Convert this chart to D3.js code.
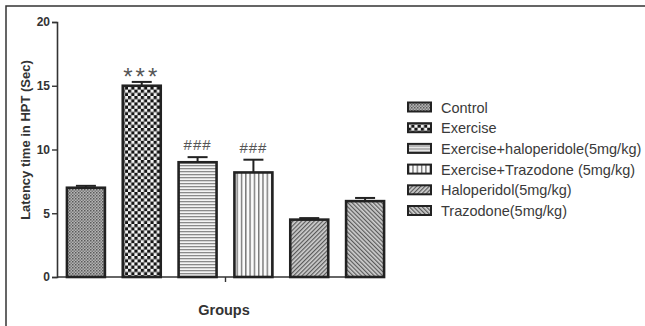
<!DOCTYPE html>
<html>
<head>
<meta charset="utf-8">
<script src="https://cdn.jsdelivr.net/npm/d3@7"></script>
<style>
  html, body { margin: 0; padding: 0; background: #fff; }
  svg { display: block; font-family: "Liberation Sans", Arial, Helvetica, sans-serif; }
</style>
</head>
<body>
<svg id="chart" width="645" height="326"></svg>
<script>
// Latency time in the hot-plate test (HPT) per treatment group
const groups = [
  "Control",
  "Exercise",
  "Exercise+haloperidole(5mg/kg)",
  "Exercise+Trazodone (5mg/kg)",
  "Haloperidol(5mg/kg)",
  "Trazodone(5mg/kg)"
];
const means = [7.0, 15.0, 9.0, 8.2, 4.5, 5.95];
const sems = [0.15, 0.3, 0.4, 1.0, 0.12, 0.25];
const marks = ["", "***", "###", "###", "", ""];
const yTicks = [0, 5, 10, 15, 20];
const patternIds = ["pControl", "pExercise", "pHoriz", "pVert", "pDiagUp", "pDiagDown"];

const svg = d3.select("#chart");
const defs = svg.append("defs");

// Fill textures for each group
function pattern(id, w, h) {
  return defs.append("pattern").attr("id", id)
    .attr("patternUnits", "userSpaceOnUse").attr("width", w).attr("height", h);
}
{
  const p = pattern("pControl", 3, 3);
  p.append("rect").attr("width", 3).attr("height", 3).attr("fill", "#b4b4b4");
  p.append("rect").attr("width", 1.5).attr("height", 1.5).attr("fill", "#5a5a5a");
  p.append("rect").attr("x", 1.5).attr("y", 1.5).attr("width", 1.5).attr("height", 1.5).attr("fill", "#7a7a7a");
}
{
  const p = pattern("pExercise", 6.4, 6.4);
  p.append("rect").attr("width", 6.4).attr("height", 6.4).attr("fill", "#f2f2f2");
  p.append("rect").attr("width", 3.2).attr("height", 3.2).attr("fill", "#151515");
  p.append("rect").attr("x", 3.2).attr("y", 3.2).attr("width", 3.2).attr("height", 3.2).attr("fill", "#151515");
}
{
  const p = pattern("pHoriz", 3, 3);
  p.append("rect").attr("width", 3).attr("height", 3).attr("fill", "#f4f4f4");
  p.append("rect").attr("y", 0).attr("width", 3).attr("height", 1.3).attr("fill", "#8a8a8a");
}
{
  const p = pattern("pVert", 4.3, 4);
  p.append("rect").attr("width", 4.3).attr("height", 4).attr("fill", "#fafafa");
  p.append("rect").attr("x", 0).attr("width", 1.4).attr("height", 4).attr("fill", "#777");
}
{
  const p = pattern("pDiagUp", 3, 3).attr("patternTransform", "rotate(45)");
  p.append("rect").attr("width", 3).attr("height", 3).attr("fill", "#cfcfcf");
  p.append("rect").attr("width", 1.2).attr("height", 3).attr("fill", "#5a5a5a");
}
{
  const p = pattern("pDiagDown", 3, 3).attr("patternTransform", "rotate(-45)");
  p.append("rect").attr("width", 3).attr("height", 3).attr("fill", "#cfcfcf");
  p.append("rect").attr("width", 1.2).attr("height", 3).attr("fill", "#5a5a5a");
}

// Frame around the figure
svg.append("path").attr("d", "M6,326V6H645")
  .attr("fill", "none").attr("stroke", "#333").attr("stroke-width", 1.5);

const x = d3.scaleBand().domain(groups).range([58, 393])
  .paddingInner(0.32).paddingOuter(0.16);
const y = d3.scaleLinear().domain([0, 20]).range([277, 22]);

// Y axis
const yAxis = svg.append("g").attr("transform", "translate(57,0)")
  .call(d3.axisLeft(y).tickValues(yTicks).tickSize(5).tickPadding(2).tickFormat(d3.format("d")));
yAxis.select(".domain").attr("stroke", "#333").attr("stroke-width", 1.6);
yAxis.selectAll(".tick line").attr("stroke", "#333").attr("stroke-width", 1.4);
yAxis.selectAll(".tick text").attr("fill", "#333").attr("font-size", 12).attr("font-weight", "bold")
  .attr("font-family", "Liberation Sans, Arial, sans-serif");

// X axis line with a single centre tick
svg.append("line").attr("x1", 57).attr("x2", 384).attr("y1", y(0)).attr("y2", y(0))
  .attr("stroke", "#333").attr("stroke-width", 1.6);
svg.append("line").attr("x1", 225.5).attr("x2", 225.5).attr("y1", y(0)).attr("y2", y(0) + 5)
  .attr("stroke", "#333").attr("stroke-width", 1.4);

// Bars
const bars = svg.append("g");
bars.selectAll("rect").data(groups).join("rect")
  .attr("x", d => x(d))
  .attr("y", (d, i) => y(means[i]))
  .attr("width", x.bandwidth())
  .attr("height", (d, i) => y(0) - y(means[i]))
  .attr("fill", (d, i) => `url(#${patternIds[i]})`)
  .attr("stroke", "#222").attr("stroke-width", 2.6);

// Error bars (upper half)
const eb = svg.append("g").attr("stroke", "#222").attr("stroke-width", 2);
groups.forEach((g, i) => {
  const cx = x(g) + x.bandwidth() / 2;
  eb.append("line").attr("x1", cx).attr("x2", cx)
    .attr("y1", y(means[i])).attr("y2", y(means[i] + sems[i]));
  eb.append("line").attr("x1", cx - 10).attr("x2", cx + 10)
    .attr("y1", y(means[i] + sems[i])).attr("y2", y(means[i] + sems[i]));
});

// Significance marks
svg.append("g").selectAll("text").data(groups).join("text")
  .attr("x", d => x(d) + x.bandwidth() / 2)
  .attr("y", (d, i) => y(means[i] + sems[i]) + (marks[i] === "***" ? 3.5 : -7))
  .attr("text-anchor", "middle")
  .attr("font-size", (d, i) => marks[i] === "***" ? 24 : 15)
  .attr("letter-spacing", (d, i) => marks[i] === "***" ? 3 : 1)
  .attr("fill", "#555")
  .text((d, i) => marks[i]);

// Axis titles
svg.append("text")
  .attr("transform", "translate(29.5,140) rotate(-90)")
  .attr("text-anchor", "middle")
  .attr("font-size", 13).attr("font-weight", "bold").attr("fill", "#333")
  .text("Latency time in HPT (Sec)");
svg.append("text")
  .attr("x", 224).attr("y", 315)
  .attr("text-anchor", "middle")
  .attr("font-size", 14.5).attr("font-weight", "bold").attr("fill", "#333")
  .text("Groups");

// Legend
const legend = svg.append("g").attr("transform", "translate(408,107)");
const rows = legend.selectAll("g").data(groups).join("g")
  .attr("transform", (d, i) => `translate(0,${i * 20.7})`);
rows.append("rect").attr("x", 0).attr("y", -4.5).attr("width", 23).attr("height", 9)
  .attr("fill", (d, i) => `url(#${patternIds[i]})`)
  .attr("stroke", "#222").attr("stroke-width", 2);
rows.append("text").attr("x", 33).attr("y", 5.5)
  .attr("font-size", 14.5).attr("fill", "#3a3a3a")
  .text(d => d);
</script>
</body>
</html>
